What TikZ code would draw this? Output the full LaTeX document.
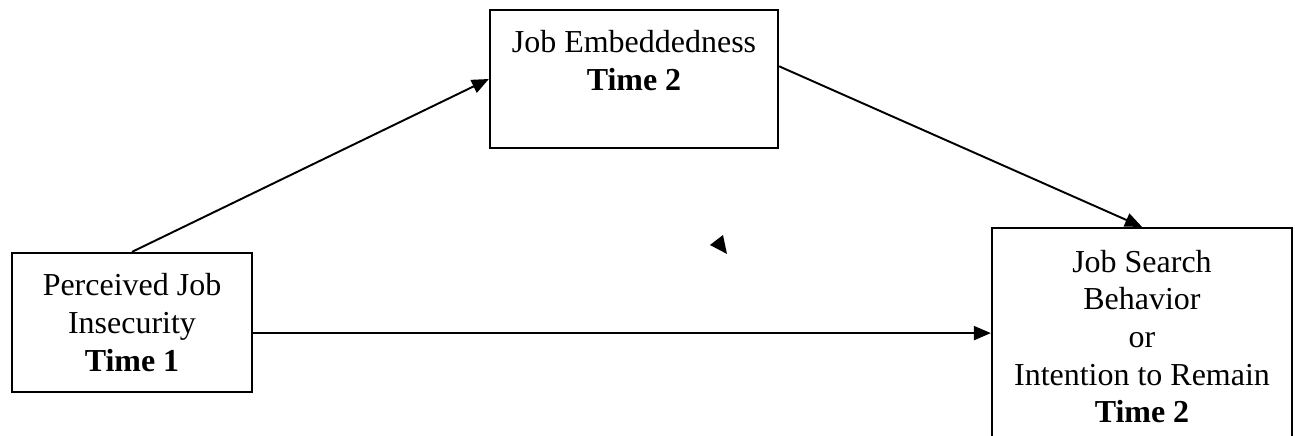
\documentclass[tikz,border=0pt]{standalone}
\usepackage{fontspec}
\setmainfont{Liberation Serif}
\usetikzlibrary{arrows.meta}

\begin{document}
\begin{tikzpicture}[->,>={Triangle[length=0.34cm,width=0.28cm]},line width=1.1pt,
        x=0.02cm,y=-0.02cm,
        box/.style={draw,line width=1.3pt,align=center,inner sep=0pt,
          font=\fontsize{18.2}{21.4}\selectfont}]
  \useasboundingbox (0,0) rectangle (1295,436);
  \clip (0,0) rectangle (1295,436);

  \node[box,minimum width=4.8cm,minimum height=2.78cm] (ins) at (132,322.5)
    {Perceived Job\\Insecurity\\\textbf{Time 1}};
  \node[box,minimum width=5.76cm,minimum height=2.76cm] (emb) at (634,79)
    {Job Embeddedness\\\textbf{Time 2}\\\mbox{}};
  \node[box,minimum width=6cm,minimum height=4.34cm] (out) at (1142,336.5)
    {Job Search\\Behavior\\or\\Intention to Remain\\\textbf{Time 2}};

  \draw (ins.north) -- (emb.west);
  \draw (emb.5) -- (out.north);
  \draw (ins.-5) -- (ins.-5 -| out.west);

  % stray tip
  \fill (710,245) -- (723,235) -- (727,254) -- cycle;
\end{tikzpicture}
\end{document}
